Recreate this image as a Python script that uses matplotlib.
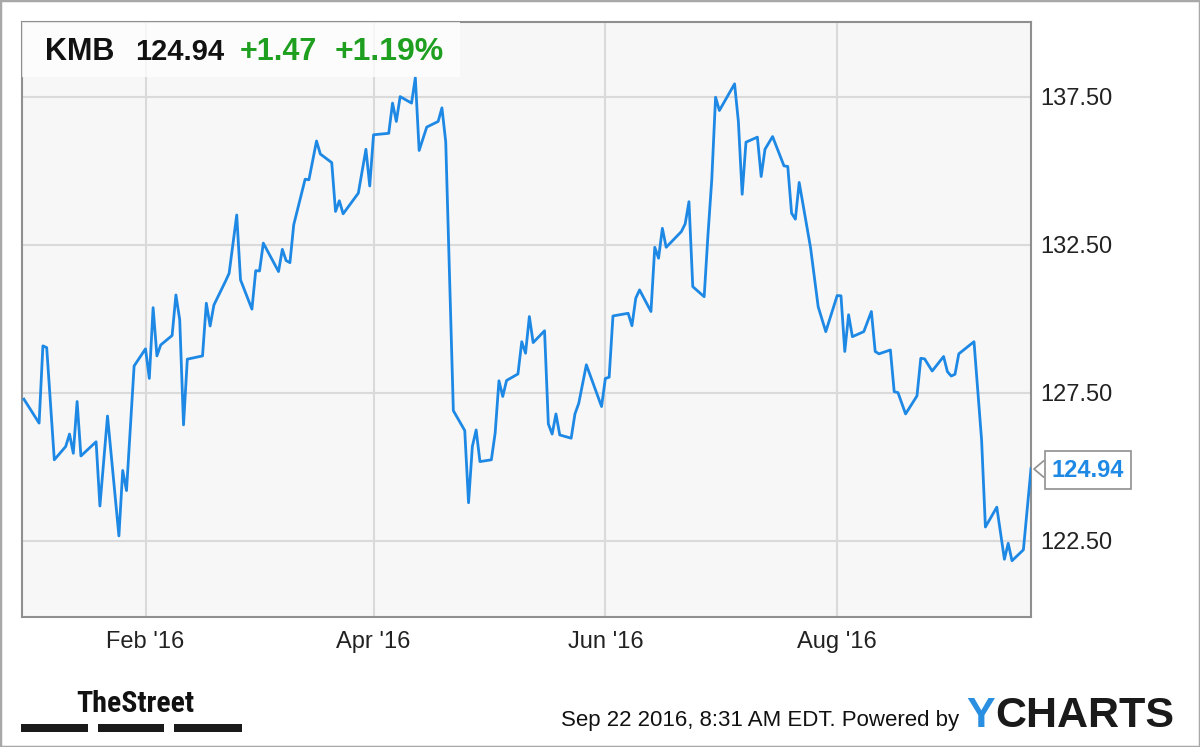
import matplotlib
matplotlib.use("Agg")
import matplotlib.pyplot as plt
import pandas as pd
from matplotlib.patches import Rectangle, Polygon
from matplotlib.lines import Line2D

# header / footer text
ticker = "KMB"
last_price = "124.94"
change = "+1.47"
change_pct = "+1.19%"
stamp = "Sep 22 2016, 8:31 AM EDT. Powered by"

# closing prices (turning points)
dates = [
    "2015-12-31", "2016-01-04", "2016-01-05", "2016-01-06", "2016-01-08",
    "2016-01-11", "2016-01-12", "2016-01-13", "2016-01-14", "2016-01-15",
    "2016-01-19", "2016-01-20", "2016-01-22", "2016-01-25", "2016-01-26",
    "2016-01-27", "2016-01-29", "2016-02-01", "2016-02-02", "2016-02-03",
    "2016-02-04", "2016-02-05", "2016-02-08", "2016-02-09", "2016-02-10",
    "2016-02-11", "2016-02-12", "2016-02-16", "2016-02-17", "2016-02-18",
    "2016-02-19", "2016-02-22", "2016-02-23", "2016-02-25", "2016-02-26",
    "2016-02-29", "2016-03-01", "2016-03-02", "2016-03-03", "2016-03-07",
    "2016-03-08", "2016-03-09", "2016-03-10", "2016-03-11", "2016-03-14",
    "2016-03-15", "2016-03-17", "2016-03-18", "2016-03-21", "2016-03-22",
    "2016-03-23", "2016-03-24", "2016-03-28", "2016-03-30", "2016-03-31",
    "2016-04-01", "2016-04-05", "2016-04-06", "2016-04-07", "2016-04-08",
    "2016-04-11", "2016-04-12", "2016-04-13", "2016-04-15", "2016-04-18",
    "2016-04-19", "2016-04-20", "2016-04-22", "2016-04-25", "2016-04-26",
    "2016-04-27", "2016-04-28", "2016-04-29", "2016-05-02", "2016-05-03",
    "2016-05-04", "2016-05-05", "2016-05-06", "2016-05-09", "2016-05-10",
    "2016-05-11", "2016-05-12", "2016-05-13", "2016-05-16", "2016-05-17",
    "2016-05-18", "2016-05-19", "2016-05-20", "2016-05-23", "2016-05-24",
    "2016-05-25", "2016-05-27", "2016-05-31", "2016-06-01", "2016-06-02",
    "2016-06-03", "2016-06-07", "2016-06-08", "2016-06-09", "2016-06-10",
    "2016-06-13", "2016-06-14", "2016-06-15", "2016-06-16", "2016-06-17",
    "2016-06-21", "2016-06-22", "2016-06-23", "2016-06-24", "2016-06-27",
    "2016-06-28", "2016-06-29", "2016-06-30", "2016-07-01", "2016-07-05",
    "2016-07-06", "2016-07-07", "2016-07-08", "2016-07-11", "2016-07-12",
    "2016-07-13", "2016-07-15", "2016-07-18", "2016-07-19", "2016-07-20",
    "2016-07-21", "2016-07-22", "2016-07-25", "2016-07-27", "2016-07-29",
    "2016-08-01", "2016-08-02", "2016-08-03", "2016-08-04", "2016-08-05",
    "2016-08-08", "2016-08-10", "2016-08-11", "2016-08-12", "2016-08-15",
    "2016-08-16", "2016-08-17", "2016-08-19", "2016-08-22", "2016-08-23",
    "2016-08-24", "2016-08-26", "2016-08-29", "2016-08-30", "2016-08-31",
    "2016-09-01", "2016-09-02", "2016-09-06", "2016-09-08", "2016-09-09",
    "2016-09-12", "2016-09-14", "2016-09-15", "2016-09-16", "2016-09-19",
    "2016-09-21",
]
prices = [
    127.29, 126.48, 129.09, 129.03, 125.24,
    125.69, 126.11, 125.46, 127.21, 125.37,
    125.85, 123.68, 126.72, 122.67, 124.88,
    124.20, 128.41, 128.99, 127.99, 130.38,
    128.75, 129.12, 129.44, 130.81, 129.97,
    126.42, 128.64, 128.75, 130.53, 129.76,
    130.47, 131.26, 131.54, 133.51, 131.32,
    130.33, 131.63, 131.62, 132.56, 131.60,
    132.35, 131.97, 131.90, 133.18, 134.72,
    134.70, 136.01, 135.57, 135.28, 133.63,
    133.99, 133.55, 134.25, 135.73, 134.49,
    136.22, 136.27, 137.29, 136.67, 137.51,
    137.29, 138.15, 135.69, 136.48, 136.67,
    137.13, 135.98, 126.90, 126.23, 123.79,
    125.69, 126.25, 125.18, 125.24, 126.14,
    127.91, 127.38, 127.92, 128.14, 129.23,
    128.84, 130.08, 129.20, 129.60, 126.45,
    126.11, 126.79, 126.08, 125.97, 126.79,
    127.15, 128.45, 127.04, 127.99, 128.03,
    130.10, 130.19, 129.77, 130.70, 130.98,
    130.25, 132.42, 132.05, 133.06, 132.42,
    132.95, 133.21, 133.96, 131.09, 130.75,
    132.84, 134.70, 137.49, 137.04, 137.94,
    136.67, 134.21, 135.97, 136.14, 134.81,
    135.73, 136.16, 135.17, 135.15, 133.57,
    133.37, 134.61, 132.40, 130.41, 129.57,
    130.79, 130.78, 128.90, 130.14, 129.40,
    129.57, 130.25, 128.90, 128.82, 128.95,
    127.54, 127.51, 126.79, 127.40, 128.67,
    128.65, 128.24, 128.73, 128.22, 128.07,
    128.13, 128.82, 129.23, 125.91, 122.97,
    123.64, 121.88, 122.42, 121.83, 122.20,
    124.94,
]

y_ticks = [122.5, 127.5, 132.5, 137.5]
x_ticks = ["2016-02-01", "2016-04-01", "2016-06-01", "2016-08-01"]
x_labels = ["Feb '16", "Apr '16", "Jun '16", "Aug '16"]

W, H = 1200, 747
LINE_BLUE = "#1e88e5"
GREEN = "#1f9f1f"
plt.rcParams["font.family"] = ["Liberation Sans", "DejaVu Sans"]


def px(x, y):
    # pixel position (from top-left) -> figure fraction
    return x / W, 1 - y / H


fig = plt.figure(figsize=(W / 100, H / 100), dpi=100)
fig.patch.set_facecolor("white")

ax = fig.add_axes([22 / W, 1 - 617 / H, (1031 - 22) / W, (617 - 22) / H])
ax.set_facecolor("#f7f7f7")
ax.plot(pd.to_datetime(dates), prices, color=LINE_BLUE, lw=2.0, zorder=3)

ax.set_xlim(pd.Timestamp("2015-12-30 12:00"), pd.Timestamp("2016-09-21"))
ax.set_ylim(119.93, 140.03)
ax.yaxis.tick_right()
ax.set_yticks(y_ticks)
ax.set_yticklabels([f"{v:.2f}" for v in y_ticks])
ax.set_xticks(pd.to_datetime(x_ticks))
ax.set_xticklabels(x_labels)
ax.tick_params(axis="both", length=0, labelsize=17, colors="#222222")
ax.tick_params(axis="x", pad=10)
ax.tick_params(axis="y", pad=7)
ax.grid(color="#dadada", lw=1.5)
for s in ax.spines.values():
    s.set_color("#8f8f8f")
    s.set_linewidth(1.5)

# translucent header box with ticker summary
x0, y0 = px(22, 77)
fig.add_artist(Rectangle((x0, y0), 438 / W, 55 / H, transform=fig.transFigure,
                         fc="white", ec="none", alpha=0.75, zorder=2))
for txt, xp, col, fs in [(ticker, 45, "#111111", 22), (last_price, 135, "#111111", 21),
                         (change, 240, GREEN, 22), (change_pct, 335, GREEN, 23)]:
    fig.text(*px(xp, 60), txt, fontsize=fs, fontweight="bold", color=col,
             va="baseline", ha="left", zorder=3)

# last price tag on the right axis
fig.text(*px(1088, 470), last_price, fontsize=17, fontweight="bold",
         color=LINE_BLUE, ha="center", va="center", zorder=3,
         bbox=dict(boxstyle="square,pad=0.3", fc="white", ec="#8f8f8f", lw=1.2))
tri = [px(1043.5, 461), px(1034, 469), px(1043.5, 477)]
fig.add_artist(Polygon(tri, closed=True, transform=fig.transFigure,
                       fc="white", ec="none", zorder=4))
fig.add_artist(Line2D([t[0] for t in tri], [t[1] for t in tri],
                      transform=fig.transFigure, color="#8f8f8f", lw=1.2, zorder=5))

# footer
fig.text(*px(76, 712), "TheStreet", fontsize=21.5, fontweight="bold",
         fontstretch="condensed",
         family=["Roboto Condensed", "Liberation Sans Narrow", "DejaVu Sans"],
         color="#111111", va="baseline", ha="left")
for bx in [(21, 88), (98, 164), (174, 242)]:
    fig.add_artist(Rectangle(px(bx[0], 732), (bx[1] - bx[0]) / W, 8 / H,
                             transform=fig.transFigure, fc="#1a1a1a", ec="none"))
fig.text(*px(959, 726), stamp, fontsize=16, color="#111111",
         va="baseline", ha="right")
fig.text(*px(966, 727), "Y", fontsize=31, fontweight="bold", color="#2a8fe0",
         va="baseline", ha="left")
fig.text(*px(995, 727), "CHARTS", fontsize=31, fontweight="bold",
         color="#1a1a1a", va="baseline", ha="left")

# outer frame
fig.add_artist(Rectangle((0, 0), 1, 1, transform=fig.transFigure, fill=False,
                         ec="#a8a8a8", lw=2.5))

fig.savefig("out.png", dpi=100)
plt.close(fig)
